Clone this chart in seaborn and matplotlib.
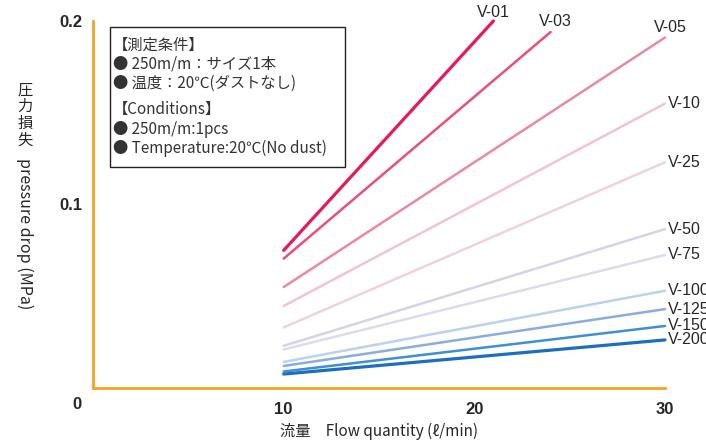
import matplotlib
matplotlib.use('Agg')
import matplotlib.pyplot as plt
import seaborn as sns
import pandas as pd
from matplotlib.patches import Rectangle

# ======================
# data
# ======================
series = ['V-01', 'V-03', 'V-05', 'V-10', 'V-25', 'V-50',
          'V-75', 'V-100', 'V-125', 'V-150', 'V-200']
flow_start = [10, 10, 10, 10, 10, 10, 10, 10, 10, 10, 10]
flow_end = [21, 24, 30, 30, 30, 30, 30, 30, 30, 30, 30]
drop_start = [0.075, 0.0705, 0.055, 0.0447, 0.033, 0.023,
              0.021, 0.0142, 0.012, 0.009, 0.0076]
drop_end = [0.200, 0.194, 0.191, 0.155, 0.123, 0.0866,
            0.0725, 0.053, 0.043, 0.0338, 0.0262]
colors = ['#e8195a', '#e8507a', '#e98aa2', '#f2c4cf', '#f0d3da', '#d4d4e8',
          '#dcdcee', '#bcd2ec', '#88aede', '#3f8fd6', '#1c6fc0']

xticks = [10, 20, 30]
yticks = [0.1, 0.2]

cond_lines = ['【測定条件】', '● 250m/m：サイズ1本', '● 温度：20℃(ダストなし)',
              '【Conditions】', '● 250m/m:1pcs', '● Temperature:20℃(No dust)']

# long form table for seaborn
rows = []
for i, s in enumerate(series):
    rows.append({'series': s, 'flow': flow_start[i], 'drop': drop_start[i]})
    rows.append({'series': s, 'flow': flow_end[i], 'drop': drop_end[i]})
df = pd.DataFrame(rows)

sns.set_style('white')
plt.rcParams['font.family'] = ['Liberation Sans', 'Noto Sans CJK JP', 'DejaVu Sans']
jp = ['Noto Sans CJK JP', 'DejaVu Sans']
orange = '#f5a21e'

fig = plt.figure(figsize=(7.06, 4.41), dpi=100)
ax = fig.add_axes([93 / 706, 1 - 388 / 441, (665 - 93) / 706, (388 - 21) / 441])

sns.lineplot(data=df, x='flow', y='drop', hue='series', hue_order=series,
             palette=dict(zip(series, colors)), linewidth=1.8,
             legend=False, ax=ax, clip_on=False, sort=False)
for ln, s in zip(ax.get_lines(), series):
    if s in ('V-01', 'V-200'):
        ln.set_linewidth(2.3)

ax.set_xlim(0, 30)
ax.set_ylim(0, 0.2)
for side in ['top', 'right']:
    ax.spines[side].set_visible(False)
for side in ['left', 'bottom']:
    ax.spines[side].set_color(orange)
    ax.spines[side].set_linewidth(2)
ax.set_xticks(xticks)
ax.set_yticks(yticks)
ax.set_xticklabels([str(t) for t in xticks], fontweight='bold', fontsize=12)
ax.set_yticklabels([str(t) for t in yticks], fontweight='bold', fontsize=12)
ax.tick_params(axis='both', direction='in', length=8, width=1.8, color=orange)
ax.tick_params(axis='x', pad=10)
ax.tick_params(axis='y', pad=8)
ax.text(-0.028, -0.045, '0', transform=ax.transAxes, fontweight='bold',
        fontsize=12, ha='center', va='center')

# series labels at the end of each line
for i, s in enumerate(series):
    x1, y1 = flow_end[i], drop_end[i]
    if s == 'V-01':
        ax.annotate(s, (x1, y1), xytext=(0, 6), textcoords='offset points',
                    ha='center', va='center', fontsize=11.5, annotation_clip=False)
    elif s in ('V-03', 'V-05'):
        ax.annotate(s, (x1, y1), xytext=(3.5, 7.5), textcoords='offset points',
                    ha='center', va='center', fontsize=11.5, annotation_clip=False)
    else:
        ax.annotate(s, (x1, y1), xytext=(2, 0), textcoords='offset points',
                    ha='left', va='center', fontsize=11.5, annotation_clip=False)

ax.set_xlabel('流量　Flow quantity (ℓ/min)', family=jp, fontsize=11, labelpad=4)
ax.set_ylabel('')

# y label: japanese stacked upright, english rotated
fig.text(25 / 706, 1 - 115 / 441, '圧\n力\n損\n失', family=jp, fontsize=11,
         ha='center', va='center', linespacing=1.0)
fig.text(25 / 706, 1 - 234 / 441, 'pressure drop (MPa)', family=jp, fontsize=11.5,
         ha='center', va='center', rotation=270)

# conditions box
fig.patches.append(Rectangle((110 / 706, 1 - 167 / 441), 235 / 706, 140 / 441,
                             transform=fig.transFigure, fill=False,
                             edgecolor='#222222', linewidth=1))
line_y = [45, 64, 83, 109, 129, 148]
for txt, yy in zip(cond_lines, line_y):
    fig.text(113 / 706, 1 - yy / 441, txt, family=jp, fontsize=11,
             ha='left', va='center', color='#333333')

fig.savefig('out.png', dpi=100)
